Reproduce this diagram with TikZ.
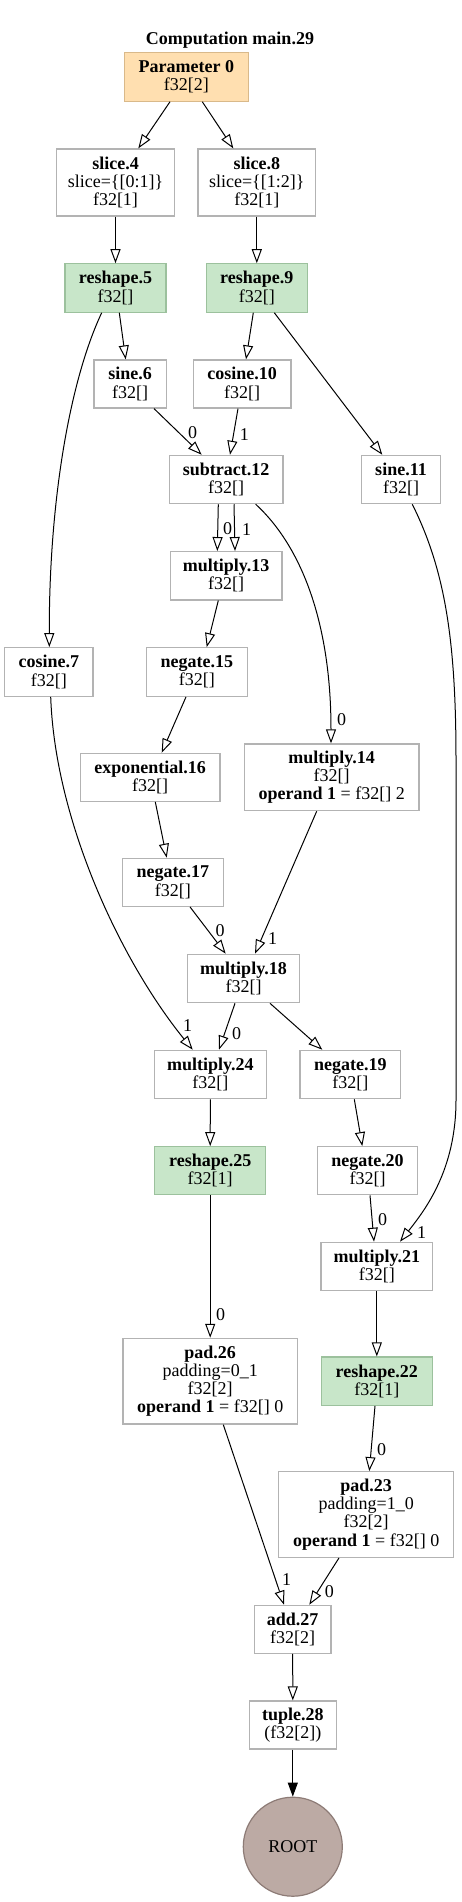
\documentclass[tikz,border=0pt]{standalone}
\usepackage{fontspec}
\setmainfont{Liberation Serif}
\usetikzlibrary{arrows.meta}
\definecolor{nodeborder}{HTML}{B3B3B3}
\definecolor{paramfill}{HTML}{FFDFB0}
\definecolor{paramborder}{HTML}{D9B98A}
\definecolor{reshfill}{HTML}{C8E6C9}
\definecolor{reshborder}{HTML}{9CC19D}
\definecolor{rootfill}{HTML}{BCAAA4}
\definecolor{rootborder}{HTML}{8D7B76}
\begin{document}
\begin{tikzpicture}[x=1pt,y=-1pt,
  op/.style={draw=nodeborder, line width=1.2pt, fill=white, rectangle, inner sep=0pt, align=center, font=\fontsize{18}{18.3}\selectfont},
  param/.style={op, draw=paramborder, fill=paramfill},
  resh/.style={op, draw=reshborder, fill=reshfill},
  sz/.style n args={2}{minimum width=#1pt, minimum height=#2pt},
  edge/.style={draw=black, line width=1pt, -{Triangle[open, length=14pt, width=10pt, fill=white]}},
  lbl/.style={font=\fontsize{18}{18}\selectfont, inner sep=0pt},
  rootnode/.style={circle, draw=rootborder, fill=rootfill, line width=1.2pt, minimum size=99pt, inner sep=0pt, font=\fontsize{18}{18}\selectfont}
]
\path[use as bounding box, fill=white] (0,0) rectangle (461,1902);

\node[font=\fontsize{18}{18}\selectfont\bfseries, inner sep=0pt] (title) at (230,40) {Computation main.29};

\node[param, sz={124}{48.3}] (p0) at (186.3,77) {\textbf{Parameter 0}\\f32[2]};
\node[op, sz={117.6}{67}] (s4) at (115.5,182.5) {\textbf{slice.4}\\slice=\{[0:1]\}\\f32[1]};
\node[op, sz={117.7}{67}] (s8) at (256.8,182.5) {\textbf{slice.8}\\slice=\{[1:2]\}\\f32[1]};
\node[resh, sz={101}{48.3}] (r5) at (115.5,288) {\textbf{reshape.5}\\f32[]};
\node[resh, sz={101}{48.3}] (r9) at (256.8,288) {\textbf{reshape.9}\\f32[]};
\node[op, sz={72.3}{48}] (sin6) at (130.2,384) {\textbf{sine.6}\\f32[]};
\node[op, sz={97.7}{48}] (cos10) at (242.2,384) {\textbf{cosine.10}\\f32[]};
\node[op, sz={113.7}{48.3}] (sub12) at (226.2,479.5) {\textbf{subtract.12}\\f32[]};
\node[op, sz={78.6}{48.3}] (sin11) at (401,479.5) {\textbf{sine.11}\\f32[]};
\node[op, sz={111.7}{48.3}] (mul13) at (226.2,575.8) {\textbf{multiply.13}\\f32[]};
\node[op, sz={88.3}{48.6}] (cos7) at (48.8,672) {\textbf{cosine.7}\\f32[]};
\node[op, sz={101}{48.6}] (neg15) at (196.8,672) {\textbf{negate.15}\\f32[]};
\node[op, sz={139.7}{48}] (exp16) at (150.2,777.3) {\textbf{exponential.16}\\f32[]};
\node[op, sz={174.7}{66.7}] (mul14) at (331.7,777.3) {\textbf{multiply.14}\\f32[]\\\textbf{operand 1} = f32[] 2};
\node[op, sz={101}{48}] (neg17) at (172.8,882.3) {\textbf{negate.17}\\f32[]};
\node[op, sz={111.6}{48.4}] (mul18) at (243.5,978.5) {\textbf{multiply.18}\\f32[]};
\node[op, sz={112}{48.4}] (mul24) at (210.3,1074.5) {\textbf{multiply.24}\\f32[]};
\node[op, sz={100.7}{48.4}] (neg19) at (350.3,1074.5) {\textbf{negate.19}\\f32[]};
\node[resh, sz={111}{48}] (r25) at (210.2,1170.7) {\textbf{reshape.25}\\f32[1]};
\node[op, sz={100.4}{48}] (neg20) at (367.5,1170.7) {\textbf{negate.20}\\f32[]};
\node[op, sz={111.7}{48.4}] (mul21) at (376.8,1266.5) {\textbf{multiply.21}\\f32[]};
\node[op, sz={174.3}{85.7}] (pad26) at (210.2,1381.2) {\textbf{pad.26}\\padding=0\_1\\f32[2]\\\textbf{operand 1} = f32[] 0};
\node[resh, sz={111}{48.3}] (r22) at (376.8,1381.2) {\textbf{reshape.22}\\f32[1]};
\node[op, sz={175}{85.6}] (pad23) at (366.2,1514.5) {\textbf{pad.23}\\padding=1\_0\\f32[2]\\\textbf{operand 1} = f32[] 0};
\node[op, sz={76.7}{48}] (add27) at (292.7,1629.3) {\textbf{add.27}\\f32[2]};
\node[op, sz={87}{48}] (tup28) at (292.8,1725) {\textbf{tuple.28}\\(f32[2])};
\node[rootnode] (root) at (292.8,1846.7) {ROOT};

% edges
\draw[edge] ([xshift=-16.3pt]p0.south) -- ([xshift=22.8pt]s4.north);
\draw[edge] ([xshift=16pt]p0.south) -- ([xshift=-23.5pt]s8.north);
\draw[edge] (s4.south) -- (r5.north);
\draw[edge] (s8.south) -- (r9.north);
\draw[edge] ([xshift=3.8pt]r5.south) -- ([xshift=-4.5pt]sin6.north);
\draw[edge] ([xshift=-13.8pt]r5.south) .. controls (70,380) and (49,500) .. ([xshift=0.5pt]cos7.north);
\draw[edge] ([xshift=-3.5pt]r9.south) -- ([xshift=3.8pt]cos10.north);
\draw[edge] ([xshift=17.5pt]r9.south) -- ([xshift=-18.7pt]sin11.north);
\draw[edge] ([xshift=23.8pt]sin6.south) -- ([xshift=-24.5pt]sub12.north) node[lbl] at (192.7,432.3) {0};
\draw[edge] ([xshift=-4.2pt]cos10.south) -- ([xshift=3.8pt]sub12.north) node[lbl] at (244.3,435) {1};
\draw[edge] ([xshift=-7.9pt]sub12.south) -- ([xshift=-8.9pt]mul13.north) node[lbl] at (227.7,528.7) {0};
\draw[edge] ([xshift=7.8pt]sub12.south) -- ([xshift=8.8pt]mul13.north) node[lbl] at (246.7,530) {1};
\draw[edge] ([xshift=29.5pt]sub12.south) .. controls (300,545) and (331,620) .. ([xshift=-0.7pt]mul14.north) node[lbl] at (341.7,720) {0};
\draw[edge] ([xshift=11.3pt]sin11.south) .. controls (445,570) and (456,640) .. (456,760) -- (456,1100) .. controls (456,1170) and (425,1210) .. ([xshift=23.2pt]mul21.north) node[lbl] at (421.7,1232.3) {1};
\draw[edge] ([xshift=-7.9pt]mul13.south) -- ([xshift=9.9pt]neg15.north);
\draw[edge] ([xshift=-10.8pt]neg15.south) -- ([xshift=11.5pt]exp16.north);
\draw[edge] ([xshift=5.1pt]exp16.south) -- ([xshift=-6.1pt]neg17.north);
\draw[edge] ([xshift=1.9pt]cos7.south) .. controls (55,820) and (120,960) .. ([xshift=-17.6pt]mul24.north) node[lbl] at (187.7,1026) {1};
\draw[edge] ([xshift=17.2pt]neg17.south) -- ([xshift=-17.8pt]mul18.north) node[lbl] at (220,930.7) {0};
\draw[edge] ([xshift=-15pt]mul14.south) -- ([xshift=11.5pt]mul18.north) node[lbl] at (272.7,938.3) {1};
\draw[edge] ([xshift=-8.5pt]mul18.south) -- ([xshift=8.7pt]mul24.north) node[lbl] at (236.7,1033.3) {0};
\draw[edge] ([xshift=26.5pt]mul18.south) -- ([xshift=-28pt]neg19.north);
\draw[edge] (mul24.south) -- (r25.north);
\draw[edge] ([xshift=4pt]neg19.south) -- ([xshift=-5.2pt]neg20.north);
\draw[edge] ([xshift=2.5pt]neg20.south) -- ([xshift=-2.8pt]mul21.north) node[lbl] at (382.7,1219.3) {0};
\draw[edge] (mul21.south) -- (r22.north);
\draw[edge] (r25.south) -- (pad26.north) node[lbl] at (220.7,1315) {0};
\draw[edge] ([xshift=-1.8pt]r22.south) -- ([xshift=3.1pt]pad23.north) node[lbl] at (381.7,1450) {0};
\draw[edge] ([xshift=13.1pt]pad26.south) -- ([xshift=-8.7pt]add27.north) node[lbl] at (286.7,1580) {1};
\draw[edge] ([xshift=-27.2pt]pad23.south) -- ([xshift=16.6pt]add27.north) node[lbl] at (329.3,1591.7) {0};
\draw[edge] (add27.south) -- (tup28.north);
\draw[draw=black, line width=1pt, -{Triangle[length=14pt, width=10pt]}] (tup28.south) -- (root.north);
\end{tikzpicture}
\end{document}
